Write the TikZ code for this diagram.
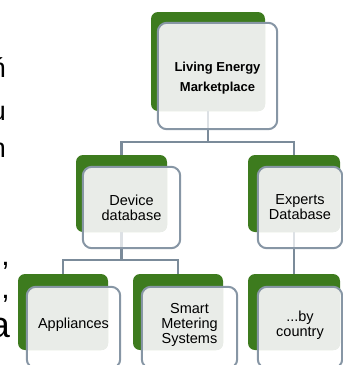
\documentclass[tikz,border=0pt]{standalone}
\usepackage{fontspec}
\setmainfont{Liberation Sans}
\definecolor{leafgreen}{HTML}{3D7B1E}
\definecolor{framegrey}{HTML}{8796A5}
\definecolor{wiregrey}{HTML}{7B8B9A}
\definecolor{panegrey}{HTML}{E9ECE8}
\tikzset{
  back/.style={fill=leafgreen, rounded corners=7pt, inner sep=0pt},
  front/.style={inner sep=0pt},
  wire/.style={draw=wiregrey, line width=2.2pt},
  label/.style={align=center, inner sep=0pt, font=\fontsize{14.5}{15}\selectfont},
  toplabel/.style={align=center, inner sep=0pt, font=\bfseries\fontsize{13}{20}\selectfont},
  margintext/.style={anchor=base east, inner sep=0pt}
}
% light pane: the part of a front card that lies over its green card
\newcommand\panefill[2]{%
  \begin{scope}
    \clip[rounded corners=7pt] (#1.north west) rectangle (#1.south east);
    \fill[panegrey, rounded corners=9pt] (#2.north west) rectangle (#2.south east);
  \end{scope}}
% white card face with its grey frame
\newcommand\cardface[1]{%
  \fill[white, opacity=0.75, rounded corners=9pt] (#1.north west) rectangle (#1.south east);}
\newcommand\cardframe[1]{%
  \draw[framegrey, line width=2pt, rounded corners=9pt] (#1.north west) rectangle (#1.south east);}
\begin{document}
\begin{tikzpicture}[x=1pt, y=-1pt]
\useasboundingbox (0,0) rectangle (343,365);

% cut-off words at the left margin
\node[margintext, font=\fontsize{27}{27}\selectfont] (m1) at (6,77) {ń};
\node[margintext, font=\fontsize{27}{27}\selectfont] (m2) at (6,120) {u};
\node[margintext, font=\fontsize{27}{27}\selectfont] (m3) at (6,157) {n};
\node[margintext, font=\fontsize{30}{30}\selectfont] (m4) at (10,265) {,};
\node[margintext, font=\fontsize{30}{30}\selectfont] (m5) at (10,298) {,};
\node[margintext, font=\fontsize{36}{36}\selectfont] (m6) at (10,337) {a};

% green back cards
\node[back, minimum width=114pt, minimum height=99pt] (g0) at (208,61.5) {};
\node[back, minimum width=91pt, minimum height=77pt] (g1) at (121.5,193.5) {};
\node[back, minimum width=92pt, minimum height=77pt] (g2) at (294,193.5) {};
\node[back, minimum width=90pt, minimum height=76pt] (g3) at (63,312) {};
\node[back, minimum width=90pt, minimum height=76pt] (g4) at (178,312) {};
\node[back, minimum width=92pt, minimum height=76pt] (g5) at (294,312) {};

% front cards (shapes only)
\node[front, minimum width=119pt, minimum height=106pt] (f0) at (217.5,76) {};
\node[front, minimum width=97pt, minimum height=81pt] (f1) at (131.5,207.5) {};
\node[front, minimum width=84pt, minimum height=81pt] (f2) at (300,207.5) {};
\node[front, minimum width=93pt, minimum height=81pt] (f3) at (73.5,327.5) {};
\node[front, minimum width=95pt, minimum height=81pt] (f4) at (189.5,327.5) {};
\node[front, minimum width=84pt, minimum height=81pt] (f5) at (300,327.5) {};

% connectors
\draw[wire] (g0.south) -- ++(0,31) coordinate (j0);
\draw[wire] (g1.north) |- (j0) -| (g2.north);
\draw[wire] (g1.south) -- ++(0,28) coordinate (j1);
\draw[wire] (g3.north) |- (j1) -| (g4.north);
\draw[wire] (g2.south) -- (g5.north);

% card faces
\foreach \f in {f0,f1,f2,f3,f4,f5} {\cardface{\f}}
\panefill{g0}{f0}
\panefill{g1}{f1}
\panefill{g2}{f2}
\panefill{g3}{f3}
\panefill{g4}{f4}
\panefill{g5}{f5}
\foreach \f in {f0,f1,f2,f3,f4,f5} {\cardframe{\f}}

% card texts
\node[toplabel] (t0) at (217.5,78) {Living Energy\\Marketplace};
\node[label] (t1) at (f1.center) {Device\\database};
\node[label] (t2) at (f2.center) {Experts\\Database};
\node[label] (t3) at (73.5,325) {Appliances};
\node[label] (t4) at (189.5,325) {Smart\\Metering\\Systems};
\node[label] (t5) at (300,325) {...by\\country};
\end{tikzpicture}
\end{document}
